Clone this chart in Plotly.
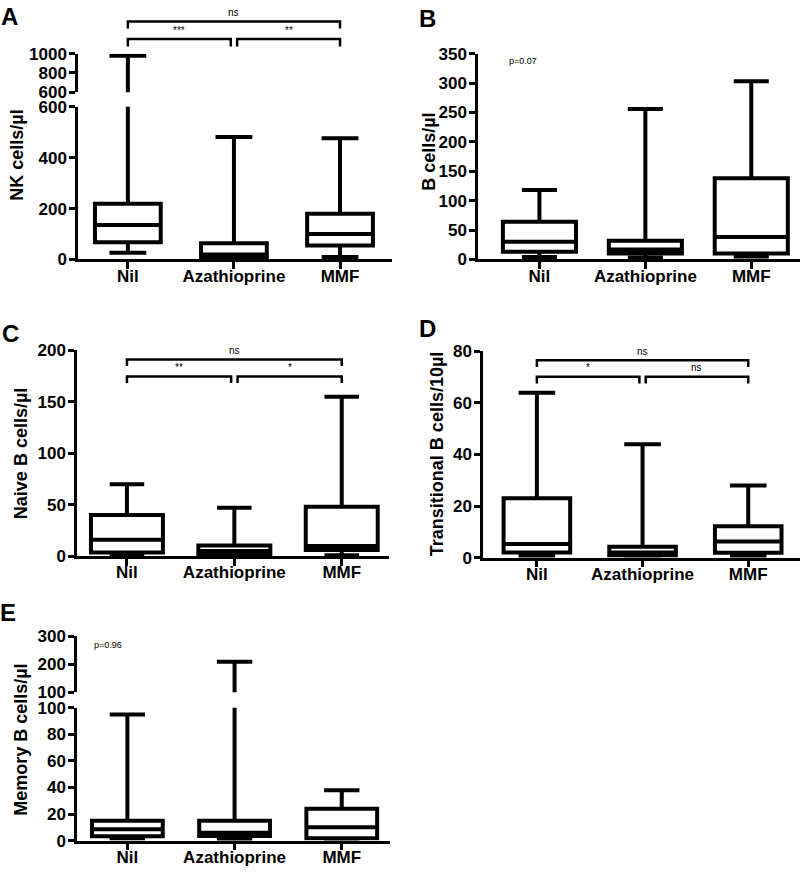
import plotly.graph_objects as go

W, H = 805, 878
FONT = "Liberation Sans, Arial, sans-serif"

categories = ["Nil", "Azathioprine", "MMF"]
cat_pos = [0, 1, 2]

# ---- Panel A: NK cells/µl
nk_min = [26, 2, 10]
nk_q1 = [68, 8, 55]
nk_median = [135, 20, 100]
nk_q3 = [219, 64, 180]
nk_max = [980, 481, 477]

# ---- Panel B: B cells/µl
b_min = [4, 3, 5]
b_q1 = [13, 10, 10]
b_median = [30, 17, 38]
b_q3 = [64, 32, 138]
b_max = [118, 256, 303]

# ---- Panel C: Naive B cells/µl
naive_min = [1.5, 0.5, 1]
naive_q1 = [3.5, 2, 6]
naive_median = [16, 5, 10]
naive_q3 = [40, 10.5, 48]
naive_max = [70, 47, 155]

# ---- Panel D: Transitional B cells/10µl
trans_min = [0.5, 0.2, 0.5]
trans_q1 = [2, 0.8, 1.9]
trans_median = [5.3, 2, 6.2]
trans_q3 = [23, 4.2, 12.2]
trans_max = [64, 44, 28]

# ---- Panel E: Memory B cells/µl
mem_min = [1.5, 1, 0.5]
mem_q1 = [3.2, 3.5, 1.8]
mem_median = [8.6, 6, 10]
mem_q3 = [15, 15, 24]
mem_max = [95, 209, 38]

# tick values
nk_ticks_low = [0, 200, 400, 600]
nk_ticks_high = [600, 800, 1000]
b_ticks = [0, 50, 100, 150, 200, 250, 300, 350]
naive_ticks = [0, 50, 100, 150, 200]
trans_ticks = [0, 20, 40, 60, 80]
mem_ticks_low = [0, 20, 40, 60, 80, 100]
mem_ticks_high = [100, 200, 300]


def px(xp):
    return xp / W


def py(yp):
    return 1 - yp / H


panels = [
    dict(letter="A", letter_xy=(9, 8), title="NK cells/µl", title_xy=(17, 150),
         stats=(nk_min, nk_q1, nk_median, nk_q3, nk_max),
         xspan=(78, 392), xrange=[-0.47, 2.49], boxw=0.62, whisk=0.56,
         segments=[([0, 600], nk_ticks_low, 256, 100), ([600, 1000], nk_ticks_high, 85, 45.7)],
         brackets=[(0, 2, 12.7, 20, "ns"), (0, 0.97, 30.7, 38.3, "***"), (1.03, 2, 30.7, 38.3, "**")],
         ptext=None),
    dict(letter="B", letter_xy=(428, 10), title="B cells/µl", title_xy=(429, 146),
         stats=(b_min, b_q1, b_median, b_q3, b_max),
         xspan=(478, 800), xrange=[-0.58, 2.46], boxw=0.69, whisk=0.48,
         segments=[([0, 350], b_ticks, 256, 45.7)],
         brackets=[], ptext=("p=0.07", 523, 53)),
    dict(letter="C", letter_xy=(10, 332), title="Naive B cells/µl", title_xy=(21, 455),
         stats=(naive_min, naive_q1, naive_median, naive_q3, naive_max),
         xspan=(77, 389), xrange=[-0.465, 2.44], boxw=0.67, whisk=0.48,
         segments=[([0, 200], naive_ticks, 559.3, 349)],
         brackets=[(0, 2, 358.3, 365, "ns"), (0, 0.97, 375.7, 382.3, "**"), (1.03, 2, 375.7, 382.3, "*")],
         ptext=None),
    dict(letter="D", letter_xy=(428, 327), title="Transitional B cells/10µl", title_xy=(437, 455),
         stats=(trans_min, trans_q1, trans_median, trans_q3, trans_max),
         xspan=(483, 800), xrange=[-0.51, 2.49], boxw=0.63, whisk=0.55,
         segments=[([0, 80], trans_ticks, 560.7, 350)],
         brackets=[(0, 2, 359, 366, "ns"), (0, 0.97, 376, 382.7, "*"), (1.03, 2, 376, 382.7, "ns")],
         ptext=None),
    dict(letter="E", letter_xy=(8, 617), title="Memory B cells/µl", title_xy=(21, 747),
         stats=(mem_min, mem_q1, mem_median, mem_q3, mem_max),
         xspan=(77, 390), xrange=[-0.47, 2.45], boxw=0.66, whisk=0.5,
         segments=[([0, 100], mem_ticks_low, 850, 714.3), ([100, 300], mem_ticks_high, 698.3, 641)],
         brackets=[], ptext=("p=0.96", 108, 650)),
]

fig = go.Figure()
layout = {}
shapes = []
annotations = []
yidx = 0

for i, p in enumerate(panels):
    xname = "x" if i == 0 else f"x{i + 1}"
    xkey = "xaxis" if i == 0 else f"xaxis{i + 1}"
    lo, q1, med, q3, hi = p["stats"]
    first_y = None
    for s, (rng, tv, yb, yt) in enumerate(p["segments"]):
        yidx += 1
        yname = "y" if yidx == 1 else f"y{yidx}"
        ykey = "yaxis" if yidx == 1 else f"yaxis{yidx}"
        if first_y is None:
            first_y = yname
            keep = list(range(len(cat_pos)))
        else:
            # only boxes whose whisker reaches the upper (broken) segment
            keep = [k for k in range(len(cat_pos)) if hi[k] > rng[0]]
        fig.add_trace(go.Box(
            x=[cat_pos[k] for k in keep],
            q1=[q1[k] for k in keep], median=[med[k] for k in keep], q3=[q3[k] for k in keep],
            lowerfence=[lo[k] for k in keep], upperfence=[hi[k] for k in keep],
            xaxis=xname, yaxis=yname, width=p["boxw"], whiskerwidth=p["whisk"],
            fillcolor="white", line=dict(color="black", width=4),
            boxpoints=False, showlegend=False, hoverinfo="skip",
        ))
        layout[ykey] = dict(
            domain=[py(yb), py(yt)], range=rng, anchor=xname,
            tickvals=tv, ticktext=[str(v) for v in tv],
            showline=True, linecolor="black", linewidth=2.5,
            ticks="outside", ticklen=6, tickwidth=2.5, tickcolor="black",
            showgrid=False, zeroline=False, ticklabelstandoff=-1,
            tickfont=dict(family=FONT, size=17, color="black", weight="bold"),
        )
    layout[xkey] = dict(
        domain=[px(p["xspan"][0]), px(p["xspan"][1])], range=p["xrange"], anchor=first_y,
        tickvals=cat_pos, ticktext=categories,
        showline=True, linecolor="black", linewidth=2.5,
        ticks="outside", ticklen=7, tickwidth=2.5, tickcolor="black",
        showgrid=False, zeroline=False, ticklabelstandoff=-8,
        tickfont=dict(family=FONT, size=17, color="black", weight="bold"),
    )
    # panel letter
    lx, ly = p["letter_xy"]
    annotations.append(dict(x=px(lx), y=py(ly), xref="paper", yref="paper", text=p["letter"],
                            showarrow=False, xanchor="center", yanchor="middle",
                            font=dict(family=FONT, size=24, color="black", weight="bold")))
    # axis title
    tx, ty = p["title_xy"]
    annotations.append(dict(x=px(tx), y=py(ty), xref="paper", yref="paper", text=p["title"],
                            textangle=-90, showarrow=False, xanchor="center", yanchor="middle",
                            font=dict(family=FONT, size=18, color="black", weight="bold")))
    # significance brackets
    for (x0, x1, ytop, ybot, lab) in p["brackets"]:
        shapes.append(dict(type="path", xref=xname, yref="paper",
                           path=f"M {x0},{py(ybot)} L {x0},{py(ytop)} L {x1},{py(ytop)} L {x1},{py(ybot)}",
                           line=dict(color="black", width=2.5)))
        annotations.append(dict(x=(x0 + x1) / 2, y=py(ytop - 1.5), xref=xname, yref="paper", text=lab,
                                showarrow=False, xanchor="center", yanchor="bottom",
                                font=dict(family=FONT, size=10, color="black")))
    if p["ptext"]:
        t, tx2, ty2 = p["ptext"]
        annotations.append(dict(x=px(tx2), y=py(ty2), xref="paper", yref="paper", text=t,
                                showarrow=False, xanchor="center", yanchor="middle",
                                font=dict(family=FONT, size=9, color="black")))

fig.update_layout(
    width=W, height=H, margin=dict(l=0, r=0, t=0, b=0),
    paper_bgcolor="white", plot_bgcolor="white",
    shapes=shapes, annotations=annotations, showlegend=False,
    **layout,
)

fig.write_html("out.html", config={"displayModeBar": False},
               post_script="document.body.style.margin='0';")
